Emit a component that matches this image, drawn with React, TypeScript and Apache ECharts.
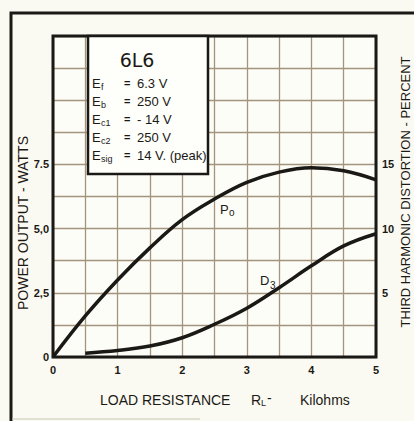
import React, { useEffect, useRef } from "react";
import * as echarts from "echarts";

// Load resistance (kilohms)
const PO_X = [0, 0.5, 1, 1.5, 2, 2.5, 3, 3.5, 4, 4.5, 5];
// Power output (watts)
const PO_VALUES = [0, 1.6, 3.0, 4.25, 5.35, 6.15, 6.8, 7.2, 7.37, 7.25, 6.9];
// Third harmonic distortion (percent)
const D3_X = [0.5, 1, 1.5, 2, 2.5, 3, 3.5, 4, 4.5, 5];
const D3_VALUES = [0.3, 0.5, 0.85, 1.5, 2.55, 3.8, 5.4, 7.1, 8.65, 9.6];

const X_TICK_LABELS = ["0", "1", "2", "3", "4", "5"];
const LEFT_TICK_LABELS: Record<string, string> = { "0": "0", "2.5": "2,5", "5": "5,0", "7.5": "7.5" };
const RIGHT_TICK_LABELS = ["5", "10", "15"];

const TUBE = "6L6";
const PARAM_SUBS = ["f", "b", "c1", "c2", "sig"];
const PARAM_VALUES = ["6.3 V", "250 V", "- 14 V", "250 V", "14 V. (peak)"];

const FONT = "Liberation Sans, Arial, sans-serif";
const INK = "#1b1916";
const GRIDC = "#a3957c";
const BG = "#fbfaf2";

export default function App() {
  const ref = useRef<HTMLDivElement>(null);
  useEffect(() => {
    if (!ref.current) return;
    const chart = echarts.init(ref.current, undefined, { renderer: "svg" });

    const gL = 53, gT = 36, gW = 323, gH = 321;
    const boxX = 88, boxY = 36, boxW = 120, boxH = 138;

    const paramTexts: any[] = [];
    PARAM_SUBS.forEach((s, i) => {
      const y = 83 + i * 18;
      paramTexts.push(
        { type: "text", z: 11, x: 92, y, style: { text: "E", font: `13px ${FONT}`, fill: INK, textVerticalAlign: "middle" } },
        { type: "text", z: 11, x: 101, y: y + 4, style: { text: s, font: `9px ${FONT}`, fill: INK, textVerticalAlign: "middle" } },
        { type: "text", z: 11, x: 124, y, style: { text: "=", font: `bold 11px ${FONT}`, fill: INK, textVerticalAlign: "middle" } },
        { type: "text", z: 11, x: 137, y, style: { text: PARAM_VALUES[i], font: `13px ${FONT}`, fill: INK, textVerticalAlign: "middle" } }
      );
    });

    chart.setOption({
      animation: false,
      backgroundColor: BG,
      grid: { left: gL, top: gT, width: gW, height: gH, show: true, borderWidth: 0, backgroundColor: "#fdfdf8" },
      xAxis: {
        type: "value", min: 0, max: 5, interval: 0.5,
        axisLine: { show: false }, axisTick: { show: false },
        splitLine: { show: true, lineStyle: { color: GRIDC, width: 1.3 } },
        axisLabel: {
          margin: 7, color: INK, fontFamily: FONT, fontSize: 11, fontWeight: "bold",
          formatter: (v: number) => (Number.isInteger(v) ? X_TICK_LABELS[v] : ""),
        },
      },
      yAxis: [
        {
          type: "value", min: 0, max: 12.5, interval: 1.25,
          axisLine: { show: false }, axisTick: { show: false },
          splitLine: { show: true, lineStyle: { color: GRIDC, width: 1.3 } },
          axisLabel: {
            margin: 4, color: INK, fontFamily: FONT, fontSize: 11, fontWeight: "bold",
            formatter: (v: number) => LEFT_TICK_LABELS[String(v)] ?? "",
          },
        },
        {
          type: "value", min: 0, max: 25, interval: 2.5, position: "right",
          axisLine: { show: false }, axisTick: { show: false }, splitLine: { show: false },
          axisLabel: {
            margin: 6, color: INK, fontFamily: FONT, fontSize: 11, fontWeight: "bold",
            formatter: (v: number) => (RIGHT_TICK_LABELS.includes(String(v)) ? String(v) : ""),
          },
        },
      ],
      series: [
        {
          name: "Po", type: "line", yAxisIndex: 0, smooth: 0.4, symbol: "none",
          lineStyle: { color: INK, width: 3.5 },
          data: PO_X.map((x, i) => [x, PO_VALUES[i]]),
          z: 5,
        },
        {
          name: "D3", type: "line", yAxisIndex: 1, smooth: 0.4, symbol: "none",
          lineStyle: { color: INK, width: 3.5 },
          data: D3_X.map((x, i) => [x, D3_VALUES[i]]),
          z: 5,
        },
      ],
      graphic: [
        { type: "polyline", shape: { points: [[11, 421], [11, 13], [414, 13]] }, style: { stroke: INK, lineWidth: 3, fill: "none" } },
        { type: "line", shape: { x1: 12, y1: 419, x2: 200, y2: 419 }, style: { stroke: "#c9c4b4", lineWidth: 1 } },
        { type: "rect", z: 9, shape: { x: gL, y: gT, width: gW, height: gH }, style: { fill: "none", stroke: INK, lineWidth: 3 } },
        { type: "rect", z: 10, shape: { x: boxX, y: boxY, width: boxW, height: boxH }, style: { fill: "#fefefb", stroke: INK, lineWidth: 2.5 } },
        { type: "text", z: 11, x: 137, y: 60, style: { text: TUBE, font: `19px DejaVu Sans, ${FONT}`, fill: INK, textAlign: "center", textVerticalAlign: "middle" } },
        ...paramTexts,
        // curve labels
        { type: "text", z: 12, x: 220, y: 209, style: { text: "P", font: `13px ${FONT}`, fill: INK, textVerticalAlign: "middle" } },
        { type: "text", z: 12, x: 229, y: 212, style: { text: "o", font: `10px ${FONT}`, fill: INK, textVerticalAlign: "middle" } },
        { type: "text", z: 12, x: 260, y: 280, style: { text: "D", font: `13px ${FONT}`, fill: INK, textVerticalAlign: "middle" } },
        { type: "text", z: 12, x: 270, y: 285, style: { text: "3", font: `10px ${FONT}`, fill: INK, textVerticalAlign: "middle" } },
        // axis titles
        { type: "text", x: 100, y: 400, style: { text: "LOAD RESISTANCE", font: `14px ${FONT}`, fill: INK, textVerticalAlign: "middle" } },
        { type: "text", x: 251, y: 400, style: { text: "R", font: `14px ${FONT}`, fill: INK, textVerticalAlign: "middle" } },
        { type: "text", x: 261, y: 403, style: { text: "L", font: `9px ${FONT}`, fill: INK, textVerticalAlign: "middle" } },
        { type: "text", x: 267, y: 398, style: { text: "-", font: `14px ${FONT}`, fill: INK, textVerticalAlign: "middle" } },
        { type: "text", x: 300, y: 400, style: { text: "Kilohms", font: `14px ${FONT}`, fill: INK, textVerticalAlign: "middle" } },
        { type: "text", x: 23, y: 223, rotation: Math.PI / 2, style: { text: "POWER OUTPUT - WATTS", font: `14px ${FONT}`, fill: INK, textAlign: "center", textVerticalAlign: "middle" } },
        { type: "text", x: 405, y: 192, rotation: Math.PI / 2, style: { text: "THIRD HARMONIC DISTORTION - PERCENT", font: `13px ${FONT}`, fill: INK, textAlign: "center", textVerticalAlign: "middle" } },
      ],
    });
    return () => chart.dispose();
  }, []);
  return <div ref={ref} style={{ position: "fixed", left: 0, top: 0, width: 414, height: 421 }} />;
}
